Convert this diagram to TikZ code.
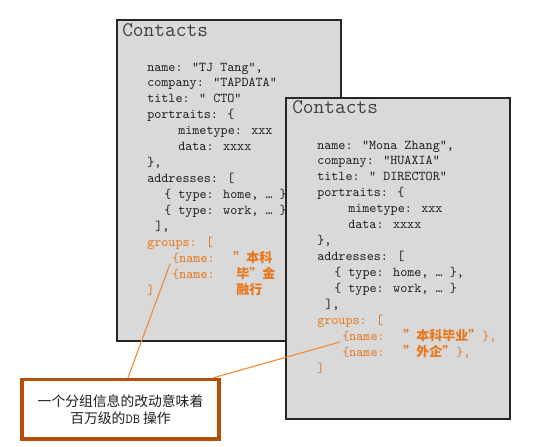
\documentclass[tikz,border=0pt]{standalone}
\usepackage{fontspec}
\newfontfamily\cjk{Noto Sans CJK SC}
\newdimen\pxu \pxu=0.75pt
\definecolor{boxfill}{HTML}{D9D9D9}
\definecolor{boxline}{HTML}{262626}
\definecolor{codetext}{HTML}{1E1E1E}
\definecolor{orangetext}{HTML}{E8761A}
\definecolor{connline}{HTML}{F4862E}
\definecolor{calloutline}{HTML}{B5500A}
\tikzset{
  docbox/.style={draw=boxline, line width=1.5pt, fill=boxfill, anchor=north west,
    minimum width=168pt, minimum height=240.75pt, inner sep=0pt},
  code/.style={font=\ttfamily\fontsize{10.1pt}{11pt}\selectfont, text=codetext, anchor=base west, inner sep=0pt},
  ocode/.style={code, text=orangetext},
  ttl/.style={font=\ttfamily\fontsize{15.6pt}{16pt}\selectfont, text=codetext!85!white, anchor=base west, inner sep=0pt},
  cn/.style={font=\cjk\bfseries\fontsize{9.75pt}{10pt}\selectfont, text=orangetext, anchor=base west, inner sep=0pt},
  conn/.style={draw=connline, line width=0.8pt},
  callout/.style={draw=calloutline, line width=2.6pt, fill=white, minimum width=147.75pt, minimum height=44.6pt,
    align=center, text=black!88, font=\cjk\fontsize{10.35pt}{12.75pt}\selectfont}
}
\begin{document}
\begin{tikzpicture}[x=0.75pt,y=-0.75pt]
\useasboundingbox (0,0) rectangle (534,446);
% first document
\node[docbox] (box1) at (116,19) {};
\node[ttl] (ttl1) at (122,36) {Contacts};
\foreach \dx/\t [count=\i] in {0/{name: "TJ Tang",}, 0/{company: ”TAPDATA"}, 0/{title: " CTO"}, 0/{portraits: \{}, 31/{mimetype: xxx}, 31/{data: xxxx}, 0/{\},}, 0/{addresses: [}, 17/{\{ type: home, … \},}, 17/{\{ type: work, … \}}, 8/{],}}
  \node[code] (a\i) at ({147+\dx},{71+15.93*(\i-1)}) {\t};
\foreach \dx/\t [count=\i from 12] in {0/{groups: [}, 25/{\{name:}, 25/{\{name:}, 0/{]}}
  \node[ocode] (a\i) at ({147+\dx},{71+15.93*(\i-1)}) {\t};
\node[cn] (acn1) at (233,{71+15.93*12}) {”本科};
\node[cn] (acn2) at (236,{71+15.93*13}) {毕”金};
\node[cn] (acn3) at (236,{71+15.93*14}) {融行};
% second document
\node[docbox] (box2) at (285,97) {};
\node[ttl] (ttl2) at (292,113) {Contacts};
\foreach \dx/\t [count=\i] in {0/{name: ”Mona Zhang",}, 0/{company: ”HUAXIA"}, 0/{title: “ DIRECTOR"}, 0/{portraits: \{}, 31/{mimetype: xxx}, 31/{data: xxxx}, 0/{\},}, 0/{addresses: [}, 17/{\{ type: home, … \},}, 17/{\{ type: work, … \}}, 8/{],}}
  \node[code] (b\i) at ({317+\dx},{149+15.93*(\i-1)}) {\t};
\foreach \dx/\t [count=\i from 12] in {0/{groups: [}, 25/{\{name:}, 25/{\{name:}, 0/{]}}
  \node[ocode] (b\i) at ({317+\dx},{149+15.93*(\i-1)}) {\t};
\node[cn] (bcn1) at (403,{149+15.93*12}) {”本科毕业”};
\node[ocode] (bend1) at (482,{149+15.93*12}) {\},};
\node[cn] (bcn2) at (403,{149+15.93*13}) {”外企”};
\node[ocode] (bend2) at (456,{149+15.93*13}) {\},};
% callout
\node[callout] (note) at (120.5,409.25) {一个分组信息的改动意味着\\百万级的{\ttfamily DB} 操作};
\coordinate (end1) at (170,264);
\coordinate (end2) at (340,342);
\draw[conn] ([xshift=5.6pt]note.north) -- (end1);
\draw[conn] ([xshift=-5.6pt]note.north east) -- (end2);
\end{tikzpicture}
\end{document}
